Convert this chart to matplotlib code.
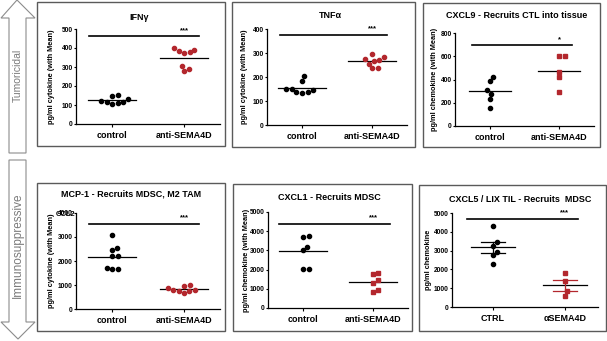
import numpy as np
import matplotlib
matplotlib.use("Agg")
import matplotlib.pyplot as plt
from matplotlib.patches import Rectangle, Polygon

plt.rcParams['font.family'] = ['Liberation Sans', 'DejaVu Sans']
plt.rcParams['font.weight'] = 'bold'

W, H = 607, 341
RED = '#b3272d'

# ---- data ----
titles = ['IFNγ', 'TNFα', 'CXCL9 - Recruits CTL into tissue',
          'MCP-1 - Recruits MDSC, M2 TAM', 'CXCL1 - Recruits MDSC',
          'CXCL5 / LIX TIL - Recruits  MDSC']
ylabels = ['pg/ml cytokine (with Mean)', 'pg/ml cytokine (with Mean)',
           'pg/ml chemokine (with Mean)', 'pg/ml cytokine (with Mean)',
           'pg/ml chemokine (with Mean)', 'pg/ml chemokine']
groups = [['control', 'anti-SEMA4D']] * 5 + [['CTRL', 'αSEMA4D']]

ctrl_vals = [
    [119, 114, 107, 109, 116, 132, 151, 147],
    [203, 182, 149, 137, 134, 137, 146, 148],
    [425, 387, 309, 275, 228, 159],
    [3100, 2550, 2450, 2200, 2200, 1700, 1650, 1650],
    [3690, 3740, 3200, 3020, 2030, 2030],
    [4330, 3470, 3240, 2940, 2760, 2290],
]
treat_vals = [
    [391, 377, 372, 386, 398, 304, 277, 289],
    [295, 283, 271, 268, 274, 256, 237, 237],
    [598, 598, 468, 419, 292],
    [790, 760, 660, 740, 790, 870, 980, 960],
    [1770, 1840, 1450, 1280, 930, 820],
    [1800, 1390, 830, 560],
]
y_max = [500, 400, 800, 4000, 5000, 5000]
y_step = [100, 100, 200, 1000, 1000, 1000]
sig_y = [463, 376, 694, 3560, 4390, 4700]
sig_text = ['***', '***', '*', '***', '***', '***']

# ---- layout (pixels, from top-left) ----
treat_marker = ['o', 'o', 's', 'o', 's', 's']
show_sem = [False, False, False, False, False, True]
boxes = [(37, 2, 225, 146), (232, 2, 415, 147), (423, 3, 600, 147),
         (37, 183, 225, 331), (233, 184, 412, 331), (419, 185, 606, 331)]
axes_px = [(76, 29, 220, 124), (267, 29, 407, 125), (455, 33, 594, 126),
           (76, 213, 220, 309), (268, 212, 408, 308), (452, 213, 598, 307)]
title_px = [(139, 17), (330, 15), (517, 15), (131, 194), (329, 198), (520, 199)]
ylabel_x = [51, 245, 435, 51, 247, 429]
xlims = [(-0.5, 1.5)] * 5 + [(-0.57, 1.46)]
sig_x = [(-0.32, 1.21), (-0.31, 1.21), (-0.26, 1.19),
         (-0.32, 1.21), (-0.35, 1.24), (-0.36, 1.18)]
mean_hw = [0.34, 0.34, 0.30, 0.34, 0.34, 0.31]


def fx(x):
    return x / W


def fy(y):
    return 1 - y / H


def swarm(ax, x0, vals, d):
    """greedy beeswarm offsets computed in pixel space"""
    pts = ax.transData.transform(np.column_stack([np.full(len(vals), x0), vals]))
    ys = pts[:, 1]
    placed = []
    xs = np.zeros(len(vals))
    for i in np.argsort(ys):
        cands = [0.0]
        for px, py in placed:
            dy = ys[i] - py
            if abs(dy) < d:
                dx = np.sqrt(d * d - dy * dy)
                cands += [px + dx, px - dx]
        cands.sort(key=abs)
        for c in cands:
            if all((c - px) ** 2 + (ys[i] - py) ** 2 >= d * d - 1e-6 for px, py in placed):
                xs[i] = c
                break
        placed.append((xs[i], ys[i]))
    pix = np.column_stack([pts[:, 0] + xs, ys])
    return ax.transData.inverted().transform(pix)[:, 0]


fig = plt.figure(figsize=(W / 100, H / 100), dpi=100)

# side arrows
up = [(9, 153), (9, 18), (1, 18), (17, 0), (35, 18), (26, 18), (26, 153)]
down = [(9, 160), (9, 322), (1, 322), (18, 339), (35, 322), (26, 322), (26, 160)]
for shape in (up, down):
    fig.patches.append(Polygon([(fx(x), fy(y)) for x, y in shape], closed=True,
                               transform=fig.transFigure, facecolor='white',
                               edgecolor='#8c8c8c', lw=0.8))
fig.text(fx(18), fy(75), 'Tumoricidal', rotation=90, ha='center', va='center',
         color='#7a7a7a', fontsize=7.5, fontweight='normal')
fig.text(fx(18), fy(245), 'Immunosuppressive', rotation=90, ha='center', va='center',
         color='#7a7a7a', fontsize=8.5, fontweight='normal')

for k in range(6):
    bx0, by0, bx1, by1 = boxes[k]
    fig.patches.append(Rectangle((fx(bx0), fy(by1)), (bx1 - bx0) / W, (by1 - by0) / H,
                                 transform=fig.transFigure, fill=False,
                                 edgecolor='#5a5a5a', lw=1.0))
    l, t, r, b = axes_px[k]
    ax = fig.add_axes([fx(l), fy(b), (r - l) / W, (b - t) / H])
    ax.set_xlim(*xlims[k])
    ax.set_ylim(0, y_max[k])
    ax.patch.set_alpha(0)
    for s in ('top', 'right'):
        ax.spines[s].set_visible(False)
    for s in ('left', 'bottom'):
        ax.spines[s].set_linewidth(0.9)
    ax.set_yticks(np.arange(0, y_max[k] + 1, y_step[k]))
    ax.set_xticks([0, 1])
    ax.set_xticklabels(groups[k])
    ax.tick_params(axis='y', length=1.8, width=0.8, pad=0.5, labelsize=4.8)
    ax.tick_params(axis='x', length=1.8, width=0.8, pad=3, labelsize=6.5)

    for gi, (vals, col, mk) in enumerate([(ctrl_vals[k], 'black', 'o'),
                                          (treat_vals[k], RED, treat_marker[k])]):
        vals = np.array(vals, dtype=float)
        xs = swarm(ax, gi, vals, 5.6)
        ax.plot(xs, vals, linestyle='none', marker=mk, color=col,
                markersize=3.0 if mk == 'o' else 3.4, clip_on=False, zorder=3)
        m = vals.mean()
        hw = mean_hw[k]
        ax.plot([gi - hw, gi + hw], [m, m], color='black', lw=0.9, zorder=2)
        if show_sem[k]:
            sem = vals.std(ddof=1) / np.sqrt(len(vals))
            ax.plot([gi, gi], [m - sem, m + sem], color=col, lw=0.9, zorder=2)
            for yy in (m - sem, m + sem):
                ax.plot([gi - 0.17, gi + 0.17], [yy, yy], color=col, lw=0.9, zorder=2)

    ax.plot(sig_x[k], [sig_y[k], sig_y[k]], color='black', lw=1.2, clip_on=False)
    ax.annotate(sig_text[k], (1, sig_y[k]), xytext=(0, 1.5), textcoords='offset points',
                ha='center', va='bottom', fontsize=5.5)

    tx, ty = title_px[k]
    fig.text(fx(tx), fy(ty), titles[k], ha='center', va='center', fontsize=6.5)
    fig.text(fx(ylabel_x[k]), fy((t + b) / 2), ylabels[k], rotation=90,
             ha='center', va='center', fontsize=5.3)

# stray label overlapping the MCP-1 axis, as in the source figure
fig.text(fx(66), fy(215), 'CCL2', ha='center', va='center', fontsize=5.5)

fig.savefig('out.png', dpi=100)
